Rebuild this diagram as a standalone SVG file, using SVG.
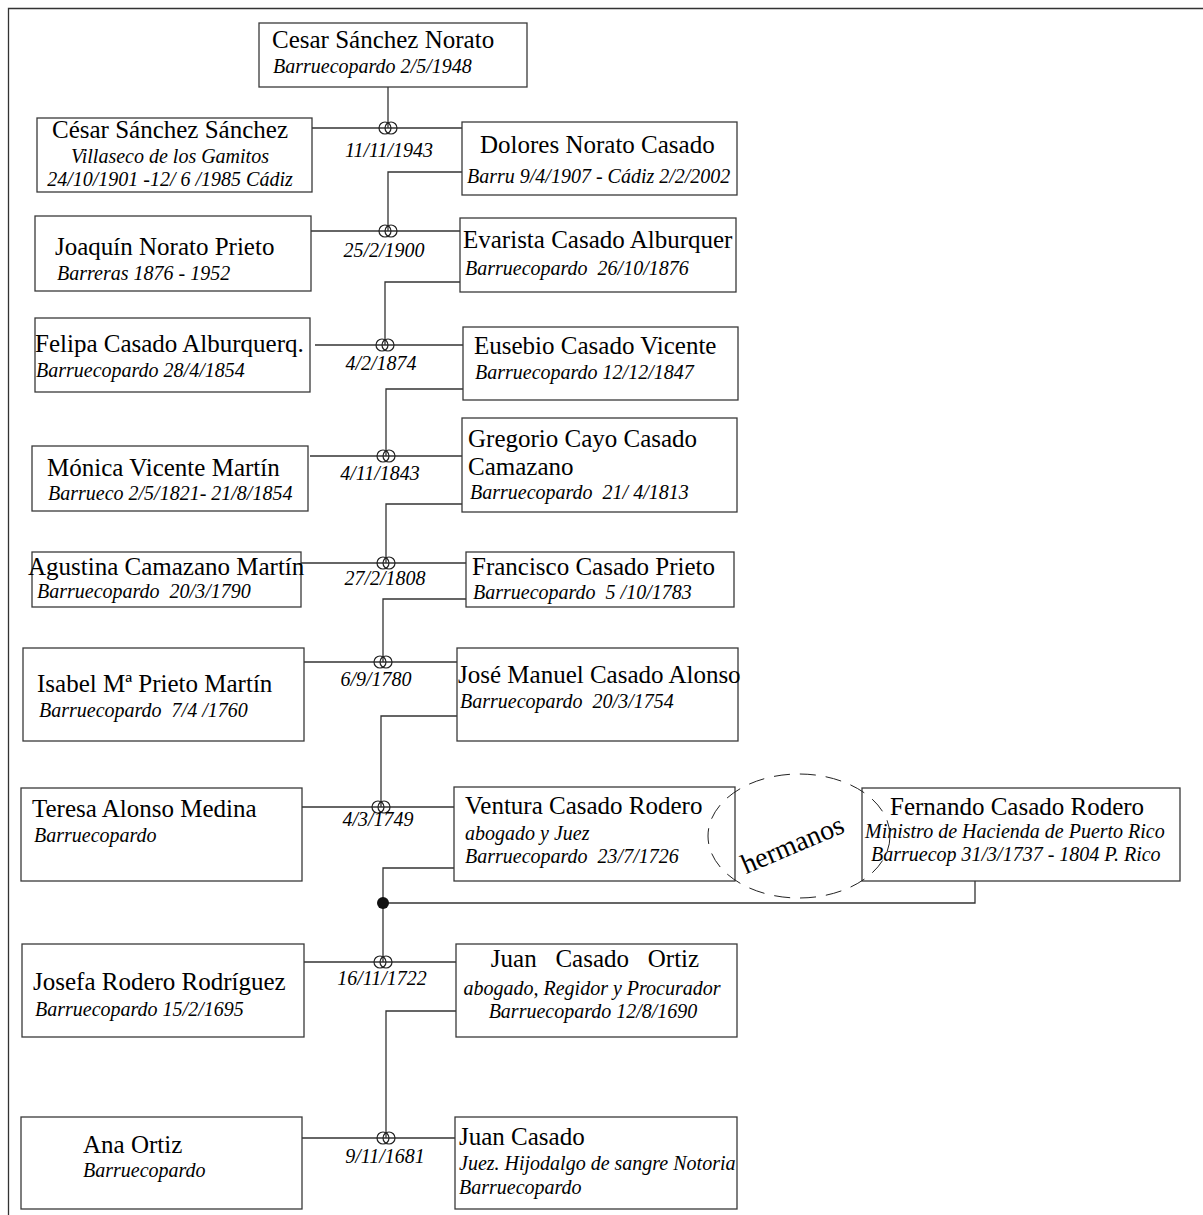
<svg xmlns="http://www.w3.org/2000/svg" xmlns:xlink="http://www.w3.org/1999/xlink" width="1203" height="1215" viewBox="0 0 1203 1215">
<style>
.bx{fill:#fff;stroke:#3a3a3a;stroke-width:1.3}
.ln{fill:none;stroke:#333;stroke-width:1.3}
.n{font-family:"Liberation Serif","Times New Roman",serif;font-size:25px;fill:#000}
.i{font-family:"Liberation Serif","Times New Roman",serif;font-size:20px;font-style:italic;fill:#000}
.c{text-anchor:middle}
.pre{white-space:pre}
.rg{fill:none;stroke:#222;stroke-width:1.2}
</style>
<defs>
<g id="ring"><circle class="rg" cx="-3" cy="0" r="6"/><circle class="rg" cx="3" cy="0" r="6"/></g>
</defs>
<rect width="1203" height="1215" fill="#fff"/>
<path class="ln" d="M8.5,1215 V8.5 H1203"/>

<g id="connectors">
<path class="ln" d="M388,87 V128"/>
<path class="ln" d="M312,128 H462"/>
<path class="ln" d="M462,172 H388 V231"/>
<path class="ln" d="M311,231 H460"/>
<path class="ln" d="M460,282 H385 V345"/>
<path class="ln" d="M315,345 H463"/>
<path class="ln" d="M463,389 H386 V456"/>
<path class="ln" d="M310,456 H462"/>
<path class="ln" d="M462,504 H386 V563"/>
<path class="ln" d="M301,563 H466"/>
<path class="ln" d="M466,599 H383 V662"/>
<path class="ln" d="M304,662 H457"/>
<path class="ln" d="M457,716 H381 V807"/>
<path class="ln" d="M302,807 H454"/>
<path class="ln" d="M454,868 H383 V962"/>
<path class="ln" d="M975,881 V903 H383"/>
<path class="ln" d="M304,962 H456"/>
<path class="ln" d="M456,1011 H386 V1138"/>
<path class="ln" d="M302,1138 H455"/>
<circle cx="383" cy="903" r="6" fill="#111"/>
<use xlink:href="#ring" x="388" y="128"/>
<use xlink:href="#ring" x="388" y="231"/>
<use xlink:href="#ring" x="385" y="345"/>
<use xlink:href="#ring" x="386" y="456"/>
<use xlink:href="#ring" x="386" y="563"/>
<use xlink:href="#ring" x="383" y="662"/>
<use xlink:href="#ring" x="381" y="807"/>
<use xlink:href="#ring" x="383" y="962"/>
<use xlink:href="#ring" x="386" y="1138"/>
<text class="i c" x="389" y="157">11/11/1943</text>
<text class="i c" x="384" y="257">25/2/1900</text>
<text class="i c" x="381" y="370">4/2/1874</text>
<text class="i c" x="380" y="480">4/11/1843</text>
<text class="i c" x="385" y="585">27/2/1808</text>
<text class="i c" x="376" y="686">6/9/1780</text>
<text class="i c" x="378" y="826">4/3/1749</text>
<text class="i c" x="382" y="985">16/11/1722</text>
<text class="i c" x="385" y="1163">9/11/1681</text>
</g>

<g id="n-cesar-norato">
<rect class="bx" x="259" y="23" width="268" height="64"/>
<text class="n" x="272" y="48">Cesar Sánchez Norato</text>
<text class="i" x="273" y="73">Barruecopardo 2/5/1948</text>
</g>
<g id="n-cesar-sanchez">
<rect class="bx" x="37" y="118" width="275" height="74"/>
<text class="n c" x="170" y="138">César Sánchez Sánchez</text>
<text class="i c" x="170" y="163">Villaseco de los Gamitos</text>
<text class="i c pre" x="170" y="186">24/10/1901 -12/ 6 /1985 Cádiz</text>
</g>
<g id="n-dolores">
<rect class="bx" x="462" y="122" width="275" height="73"/>
<text class="n" x="480" y="153">Dolores Norato Casado</text>
<text class="i" x="467" y="183">Barru 9/4/1907 - Cádiz 2/2/2002</text>
</g>
<g id="n-joaquin">
<rect class="bx" x="35" y="216" width="276" height="75"/>
<text class="n" x="55" y="255">Joaquín Norato Prieto</text>
<text class="i" x="57" y="280">Barreras 1876 - 1952</text>
</g>
<g id="n-evarista">
<rect class="bx" x="460" y="218" width="276" height="74"/>
<text class="n" x="463" y="248">Evarista Casado Alburquer</text>
<text class="i pre" x="465" y="275">Barruecopardo  26/10/1876</text>
</g>
<g id="n-felipa">
<rect class="bx" x="35" y="318" width="275" height="74"/>
<text class="n" x="35" y="352">Felipa Casado Alburquerq.</text>
<text class="i" x="36" y="377">Barruecopardo 28/4/1854</text>
</g>
<g id="n-eusebio">
<rect class="bx" x="463" y="327" width="275" height="73"/>
<text class="n" x="474" y="354">Eusebio Casado Vicente</text>
<text class="i" x="475" y="379">Barruecopardo 12/12/1847</text>
</g>
<g id="n-monica">
<rect class="bx" x="32" y="446" width="276" height="65"/>
<text class="n" x="47" y="476">Mónica Vicente Martín</text>
<text class="i" x="48" y="500">Barrueco 2/5/1821- 21/8/1854</text>
</g>
<g id="n-gregorio">
<rect class="bx" x="462" y="418" width="275" height="94"/>
<text class="n" x="468" y="447">Gregorio Cayo Casado</text>
<text class="n" x="468" y="475">Camazano</text>
<text class="i pre" x="470" y="499">Barruecopardo  21/ 4/1813</text>
</g>
<g id="n-agustina">
<rect class="bx" x="32" y="552" width="269" height="55"/>
<text class="n" x="28" y="575">Agustina Camazano Martín</text>
<text class="i pre" x="37" y="598">Barruecopardo  20/3/1790</text>
</g>
<g id="n-francisco">
<rect class="bx" x="466" y="552" width="268" height="55"/>
<text class="n" x="472" y="575">Francisco Casado Prieto</text>
<text class="i pre" x="473" y="599">Barruecopardo  5 /10/1783</text>
</g>
<g id="n-isabel">
<rect class="bx" x="23" y="648" width="281" height="93"/>
<text class="n" x="37" y="692">Isabel Mª Prieto Martín</text>
<text class="i pre" x="39" y="717">Barruecopardo  7/4 /1760</text>
</g>
<g id="n-jose">
<rect class="bx" x="457" y="648" width="281" height="93"/>
<text class="n" x="458" y="683">José Manuel Casado Alonso</text>
<text class="i pre" x="460" y="708">Barruecopardo  20/3/1754</text>
</g>
<g id="n-teresa">
<rect class="bx" x="21" y="788" width="281" height="93"/>
<text class="n" x="32" y="817">Teresa Alonso Medina</text>
<text class="i" x="34" y="842">Barruecopardo</text>
</g>
<g id="n-ventura">
<rect class="bx" x="454" y="787" width="281" height="94"/>
<text class="n" x="465" y="814">Ventura Casado Rodero</text>
<text class="i" x="465" y="840">abogado y Juez</text>
<text class="i pre" x="465" y="863">Barruecopardo  23/7/1726</text>
</g>
<g id="n-fernando">
<rect class="bx" x="862" y="788" width="318" height="93"/>
<text class="n" x="890" y="815">Fernando Casado Rodero</text>
<text class="i" x="865" y="838">Ministro de Hacienda de Puerto Rico</text>
<text class="i" x="871" y="861">Barruecop 31/3/1737 - 1804 P. Rico</text>
</g>
<g id="n-hermanos">
<ellipse cx="799" cy="836" rx="91" ry="62" fill="none" stroke="#222" stroke-width="1" stroke-dasharray="16 10"/>
<text class="n c" x="796" y="853" style="font-size:28px" transform="rotate(-23 796 853)">hermanos</text>
</g>
<g id="n-josefa">
<rect class="bx" x="22" y="944" width="282" height="93"/>
<text class="n" x="33" y="990">Josefa Rodero Rodríguez</text>
<text class="i" x="35" y="1016">Barruecopardo 15/2/1695</text>
</g>
<g id="n-juan-ortiz">
<rect class="bx" x="456" y="944" width="281" height="93"/>
<text class="n c pre" x="595" y="967">Juan   Casado   Ortiz</text>
<text class="i c" x="592" y="995">abogado, Regidor y Procurador</text>
<text class="i c" x="593" y="1018">Barruecopardo 12/8/1690</text>
</g>
<g id="n-ana">
<rect class="bx" x="21" y="1117" width="281" height="92"/>
<text class="n" x="83" y="1153">Ana Ortiz</text>
<text class="i" x="83" y="1177">Barruecopardo</text>
</g>
<g id="n-juan">
<rect class="bx" x="455" y="1117" width="282" height="92"/>
<text class="n" x="459" y="1145">Juan Casado</text>
<text class="i" x="459" y="1170">Juez. Hijodalgo de sangre Notoria</text>
<text class="i" x="459" y="1194">Barruecopardo</text>
</g>
</svg>
